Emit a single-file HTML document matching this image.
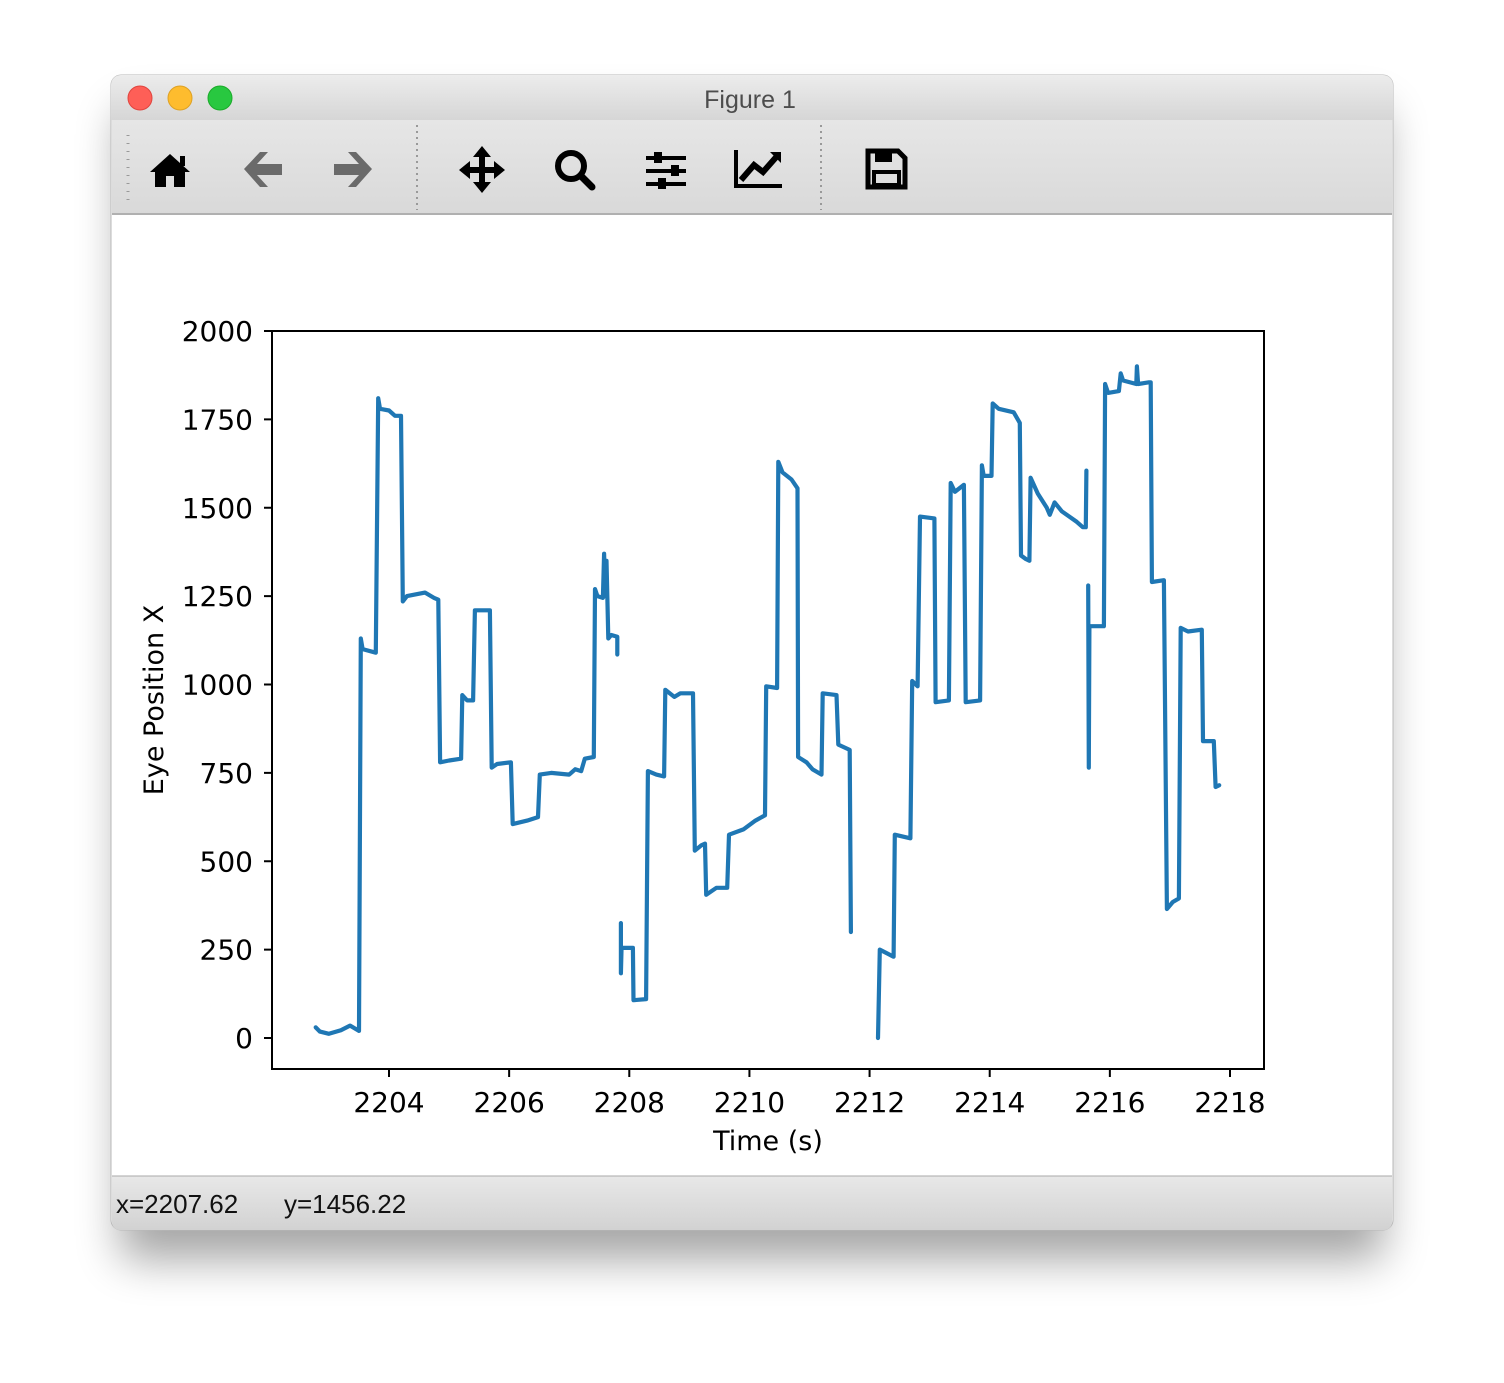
<!DOCTYPE html>
<html><head><meta charset="utf-8"><style>
html,body{margin:0;padding:0;background:#fff;}
body{width:1504px;height:1378px;position:relative;overflow:hidden;font-family:"Liberation Sans",sans-serif;}
</style></head><body>
<svg width="1504" height="1378" viewBox="0 0 1504 1378" xmlns="http://www.w3.org/2000/svg">
<defs>
<filter id="sh" x="-20%" y="-20%" width="140%" height="150%"><feGaussianBlur stdDeviation="22"/></filter>
<linearGradient id="tb" x1="0" y1="0" x2="0" y2="1"><stop offset="0" stop-color="#ececec"/><stop offset="1" stop-color="#d6d6d6"/></linearGradient>
<linearGradient id="tl" x1="0" y1="0" x2="0" y2="1"><stop offset="0" stop-color="#e6e6e6"/><stop offset="1" stop-color="#d9d9d9"/></linearGradient>
<linearGradient id="sb" x1="0" y1="0" x2="0" y2="1"><stop offset="0" stop-color="#e8e8e8"/><stop offset="1" stop-color="#d2d2d2"/></linearGradient>
</defs>
<rect x="120" y="110" width="1264" height="1150" rx="12" fill="#000" opacity="0.35" filter="url(#sh)"/>
<g>
<rect x="111" y="75" width="1282" height="1155" rx="10" fill="#fff" stroke="#b8b8b8"/>
<path d="M111,120 V85 a10,10 0 0 1 10,-10 H1383 a10,10 0 0 1 10,10 V120 Z" fill="url(#tb)"/>
<circle cx="140" cy="98" r="12" fill="#fe5f57" stroke="#e0443e"/>
<circle cx="180" cy="98" r="12" fill="#febc2e" stroke="#dea123"/>
<circle cx="220" cy="98" r="12" fill="#28c840" stroke="#1aab29"/>
<text x="750" y="108" font-size="25" text-anchor="middle" fill="#4d4d4d">Figure 1</text>
<rect x="112" y="120" width="1280" height="94" fill="url(#tl)"/>
<line x1="112" y1="214" x2="1392" y2="214" stroke="#b0b0b0" stroke-width="2"/>
<line x1="128" y1="135" x2="128" y2="200" stroke="#999" stroke-width="3" stroke-dasharray="1,7"/>
<line x1="417" y1="125" x2="417" y2="210" stroke="#999" stroke-width="2" stroke-dasharray="2,4"/>
<line x1="821" y1="125" x2="821" y2="210" stroke="#999" stroke-width="2" stroke-dasharray="2,4"/>
<g><path d="M150,172 L170,154 L190,172 L185,172 L185,187 L174,187 L174,176 L166,176 L166,187 L155,187 L155,172 Z" fill="#000"/><rect x="180" y="156" width="5" height="10" fill="#000"/></g>
<g><path d="M244,169 L260,152 L268,152 L257,164 L282,164 L282,175 L257,175 L268,187 L260,187 Z" fill="#6a6a6a"/></g>
<g><path d="M372,169 L356,152 L348,152 L359,164 L334,164 L334,175 L359,175 L348,187 L356,187 Z" fill="#6a6a6a"/></g>
<g fill="#000"><rect x="479" y="154" width="6" height="32"/><rect x="466" y="167" width="32" height="6"/><path d="M482,146 L491,157 L473,157 Z M482,193 L491,182 L473,182 Z M459,170 L470,161 L470,179 Z M505,170 L494,161 L494,179 Z"/></g>
<g><circle cx="571" cy="166" r="13" fill="none" stroke="#000" stroke-width="6"/><line x1="581" y1="176" x2="592" y2="187" stroke="#000" stroke-width="7" stroke-linecap="round"/></g>
<g fill="#000"><rect x="646" y="156" width="40" height="4"/><rect x="646" y="169" width="40" height="4"/><rect x="646" y="182" width="40" height="4"/><rect x="654" y="152" width="8" height="11"/><rect x="671" y="165" width="8" height="11"/><rect x="658" y="178" width="8" height="11"/></g>
<g><path d="M736,150 V186 H782" fill="none" stroke="#000" stroke-width="4"/><path d="M741,180 L754,165 L763,172 L778,155" fill="none" stroke="#000" stroke-width="6"/><path d="M770,152 L781,152 L781,163 Z" fill="#000"/></g>
<g><path d="M868,151 H898 L905,158 V187 H868 Z" fill="none" stroke="#000" stroke-width="5"/><rect x="875" y="152" width="17" height="10" fill="#000"/><rect x="874" y="172" width="25" height="13" fill="none" stroke="#000" stroke-width="4"/></g>
<rect x="112" y="215" width="1280" height="961" fill="#fff"/>
<path d="M112,1176 H1392 V1222 a8,8 0 0 1 -8,8 H120 a8,8 0 0 1 -8,-8 Z" fill="url(#sb)"/>
<line x1="112" y1="1176" x2="1392" y2="1176" stroke="#aaa"/>
<text x="116" y="1213" font-size="26" fill="#111">x=2207.62</text>
<text x="284" y="1213" font-size="26" fill="#111">y=1456.22</text>
</g>
<g id="axes"></g>
</svg>
<script>
const xTicks=[2204,2206,2208,2210,2212,2214,2216,2218];
const yTicks=[0,250,500,750,1000,1250,1500,1750,2000];
const seg1T=[2202.78,2202.85,2203.0,2203.2,2203.35,2203.48,2203.5,2203.53,2203.56,2203.78,2203.82,2203.85,2204.0,2204.1,2204.2,2204.23,2204.3,2204.6,2204.75,2204.82,2204.85,2205.0,2205.2,2205.22,2205.3,2205.4,2205.43,2205.68,2205.71,2205.8,2206.03,2206.06,2206.3,2206.48,2206.51,2206.7,2207.0,2207.1,2207.2,2207.26,2207.41,2207.43,2207.47,2207.56,2207.58,2207.6,2207.62,2207.65,2207.7,2207.8,2207.8];
const seg1V=[30,18,12,22,35,22,20,1130,1100,1090,1810,1780,1775,1760,1760,1235,1250,1260,1245,1240,780,785,790,970,955,955,1210,1210,765,775,780,605,615,625,745,750,745,760,755,790,795,1270,1250,1245,1370,1250,1350,1130,1140,1135,1085];
const seg2T=[2207.86,2207.86,2207.87,2207.88,2208.06,2208.07,2208.28,2208.31,2208.45,2208.58,2208.6,2208.75,2208.85,2209.06,2209.09,2209.2,2209.26,2209.28,2209.45,2209.63,2209.66,2209.9,2210.1,2210.26,2210.28,2210.46,2210.48,2210.55,2210.7,2210.8,2210.81,2210.95,2211.05,2211.2,2211.22,2211.45,2211.48,2211.67,2211.69];
const seg2V=[325,183,250,255,255,107,110,755,745,740,985,965,975,975,530,545,550,405,425,425,575,590,615,630,995,990,1630,1600,1580,1555,795,780,760,745,975,970,830,815,300];
const seg3T=[2212.14,2212.17,2212.4,2212.42,2212.68,2212.71,2212.8,2212.84,2213.08,2213.1,2213.32,2213.35,2213.42,2213.57,2213.6,2213.84,2213.87,2213.9,2214.03,2214.05,2214.15,2214.4,2214.5,2214.52,2214.6,2214.66,2214.68,2214.8,2214.95,2215.0,2215.08,2215.2,2215.45,2215.55,2215.6,2215.61];
const seg3V=[0,250,230,575,565,1010,995,1475,1470,950,955,1570,1545,1565,950,955,1620,1590,1590,1795,1780,1770,1740,1365,1355,1350,1585,1540,1500,1480,1515,1490,1460,1445,1445,1605];
const seg4T=[2215.64,2215.65,2215.66,2215.9,2215.92,2215.97,2216.15,2216.18,2216.22,2216.44,2216.45,2216.47,2216.65,2216.68,2216.7,2216.9,2216.95,2217.05,2217.15,2217.18,2217.3,2217.53,2217.55,2217.73,2217.76,2217.82];
const seg4V=[1280,765,1165,1165,1850,1825,1830,1880,1860,1850,1900,1850,1855,1855,1290,1295,365,385,395,1160,1150,1155,840,840,710,715];
const segT=[seg1T,seg2T,seg3T,seg4T], segV=[seg1V,seg2V,seg3V,seg4V];
const L=272,R=1264,T=331,B=1069;
const xs=t=>389+(t-2204)*(1230-389)/14;
const ys=v=>1038-v*(1038-331)/2000;
const NS="http://www.w3.org/2000/svg";
const ax=document.getElementById('axes');
function mk(tag,attrs){const e=document.createElementNS(NS,tag);for(const k in attrs)e.setAttribute(k,attrs[k]);ax.appendChild(e);return e;}
const frame=mk('rect',{x:L,y:T,width:R-L,height:B-T,fill:'#fff',stroke:'#000','stroke-width':2});


segT.forEach((ts,i)=>{
  const d=ts.map((t,j)=>(j?'L':'M')+xs(t).toFixed(1)+','+ys(segV[i][j]).toFixed(1)).join(' ');
  const p=mk('path',{d:d,fill:'none',stroke:'#1f77b4','stroke-width':4.2,'stroke-linejoin':'round','stroke-linecap':'round'});
  
  
});
xTicks.forEach(t=>{
  const l=mk('line',{x1:xs(t),x2:xs(t),y1:B,y2:B+8,stroke:'#000','stroke-width':2});
  
  
  const tx=mk('text',{x:xs(t),y:B+43,'font-size':28,'text-anchor':'middle',fill:'#000','font-family':'DejaVu Sans, sans-serif'});
  tx.textContent=t;
  
  
});
yTicks.forEach(v=>{
  const l=mk('line',{x1:L-8,x2:L,y1:ys(v),y2:ys(v),stroke:'#000','stroke-width':2});
  
  
  const tx=mk('text',{x:L-19,y:ys(v)+10,'font-size':28,'text-anchor':'end',fill:'#000','font-family':'DejaVu Sans, sans-serif'});
  tx.textContent=v;
  
  
});
const xl=mk('text',{x:768,y:1150,'font-size':27,'text-anchor':'middle',fill:'#000','font-family':'DejaVu Sans, sans-serif'});
xl.textContent='Time (s)';


const yl=mk('text',{x:0,y:0,'font-size':27,'text-anchor':'middle',fill:'#000','font-family':'DejaVu Sans, sans-serif',transform:'translate(163,700) rotate(-90)'});
yl.textContent='Eye Position X';


</script>
</body></html>
